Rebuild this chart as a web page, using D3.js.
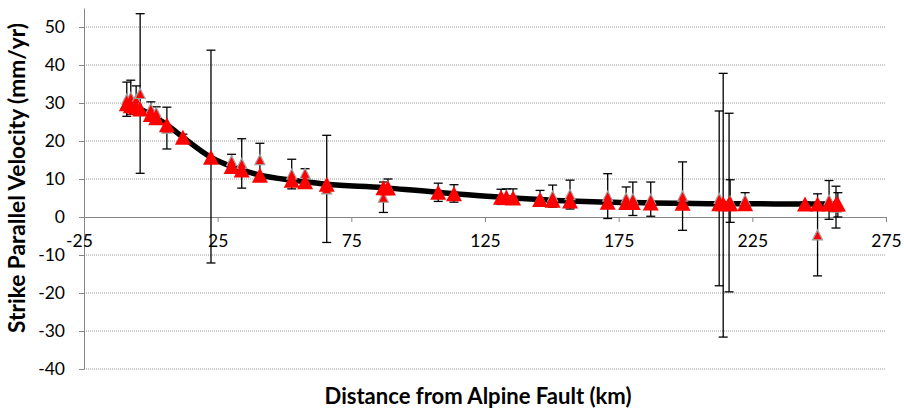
<!DOCTYPE html>
<html><head><meta charset="utf-8">
<script src="https://cdn.jsdelivr.net/npm/d3@7"></script>
<style>
html,body{margin:0;padding:0;background:#fff;}
svg{display:block;}
text{font-family:Lato,"Liberation Sans",sans-serif;}
</style></head>
<body>
<svg id="chart" width="904" height="409"></svg>
<script>
// Distance from Alpine Fault (km)
const distances = [-9,-7.5,-5.5,-4,0,2,6,12,22.5,30.2,34,40.8,52.7,57.7,65.8,87,88.7,107.5,113.4,131,133,135.5,145.6,150.3,156.8,170.9,177.8,180.3,187,198.9,212.6,214.1,216.3,216.7,222.3,244.7,249.4,253.7,256.3,257];
// Observed strike parallel velocity (mm/yr)
const observed = [31,31.5,31,32.5,28.5,27.5,23.4,21,15.9,14.8,14.1,15.1,11.3,11.5,7.4,5.2,8.1,6.5,6.2,5.3,5.6,5.4,5.0,5.5,5.9,5.5,5.0,4.8,4.7,5.5,4.9,3.1,3.8,4.2,4.5,3.5,-4.7,4.5,2.6,3.2];
// Observation uncertainty (mm/yr)
const errors = [4.5,4.5,3.5,21,1.8,1.5,5.5,0.8,28,1.7,6.5,4.3,3.9,1.2,14.1,4,1.9,2.4,2.3,2,1.8,2,2,2.9,3.8,5.9,2.9,4.4,4.5,9,23,34.7,23.5,5.6,1.9,0.5,10.8,5.1,5.5,3.2];
// Model velocity (mm/yr)
const model = [29.8,29.3,28.9,28.4,27.0,26.1,24.3,21.0,15.7,13.3,12.4,11.0,9.7,9.3,8.6,7.7,7.6,6.5,6.1,5.2,5.1,5.0,4.6,4.4,4.2,3.9,3.8,3.8,3.7,3.6,3.5,3.5,3.5,3.5,3.5,3.4,3.4,3.4,3.4,3.4];
const xTicks = [-25,25,75,125,175,225,275];
const yTicks = [-40,-30,-20,-10,0,10,20,30,40,50];

const svg = d3.select("#chart");
const x = d3.scaleLinear().domain([-25,275]).range([84,886]);
const y = d3.scaleLinear().domain([-40,55]).range([369,8]);

// gridlines
svg.append("g").selectAll("line").data(yTicks.filter(v=>v!==0)).join("line")
  .attr("x1",x(-25)).attr("x2",x(275)).attr("y1",d=>y(d)).attr("y2",d=>y(d))
  .attr("stroke","#9a9a9a").attr("stroke-width",1).attr("stroke-dasharray","1,1");

// y axis
const ya = svg.append("g").attr("transform",`translate(${x(-25)},0)`)
  .call(d3.axisLeft(y).tickValues(yTicks).tickFormat(d=>String(d)).tickSize(5).tickPadding(14).tickSizeOuter(0));
ya.select(".domain").attr("stroke","#868686");
ya.selectAll(".tick line").attr("stroke","#868686");
ya.selectAll("text").attr("font-size",17.5).attr("fill","#000");

// x axis on zero line
const xa = svg.append("g").attr("transform",`translate(0,${y(0)})`)
  .call(d3.axisBottom(x).tickValues(xTicks).tickFormat(d=>String(d)).tickSize(5).tickPadding(13).tickSizeOuter(0));
xa.select(".domain").attr("stroke","#868686");
xa.selectAll(".tick line").attr("stroke","#868686");
xa.selectAll("text").attr("font-size",17.5).attr("fill","#000")
  .attr("dx",d=>d===-25?-5:0);

const pts = distances.map((d,i)=>({x:d,v:observed[i],e:errors[i],m:model[i]}));

// model line
svg.append("path").datum(pts)
  .attr("d",d3.line().x(d=>x(d.x)).y(d=>y(d.m)).curve(d3.curveMonotoneX))
  .attr("fill","none").attr("stroke","#000").attr("stroke-width",5.5).attr("stroke-linejoin","round");

// error bars
const eb = svg.append("g").attr("stroke","#000").attr("stroke-width",1.3);
pts.forEach(d=>{
  const cx = x(d.x), y1=y(d.v+d.e), y2=y(d.v-d.e);
  eb.append("line").attr("x1",cx).attr("x2",cx).attr("y1",y1).attr("y2",y2);
  eb.append("line").attr("x1",cx-4.5).attr("x2",cx+4.5).attr("y1",y1).attr("y2",y1);
  eb.append("line").attr("x1",cx-4.5).attr("x2",cx+4.5).attr("y1",y2).attr("y2",y2);
});

function tri(w,h){return `M0,${-h/2}L${w/2},${h/2}L${-w/2},${h/2}Z`;}

// observed markers (small, grey outline)
svg.append("g").selectAll("path").data(pts).join("path")
  .attr("transform",d=>`translate(${x(d.x)},${y(d.v)})`)
  .attr("d",tri(10,10)).attr("fill","#ff0000").attr("stroke","#a0a0a0").attr("stroke-width",1.2);

// model markers
svg.append("g").selectAll("path").data(pts).join("path")
  .attr("transform",d=>`translate(${x(d.x)},${y(d.m)})`)
  .attr("d",tri(16,15)).attr("fill","#ff0000");

// axis titles, sized to the reference widths
function fit(t, w){
  t.attr("font-size",20);
  const L = t.node().getComputedTextLength();
  t.attr("font-size", 20*w/L);
}
const xt = svg.append("text").attr("x",478).attr("y",404).attr("text-anchor","middle")
  .attr("font-weight","bold").text("Distance from Alpine Fault (km)");
fit(xt,307);
const yt = svg.append("text").attr("transform","translate(25,178) rotate(-90)").attr("text-anchor","middle")
  .attr("font-weight","bold").text("Strike Parallel Velocity (mm/yr)");
fit(yt,310);
</script>
</body></html>
